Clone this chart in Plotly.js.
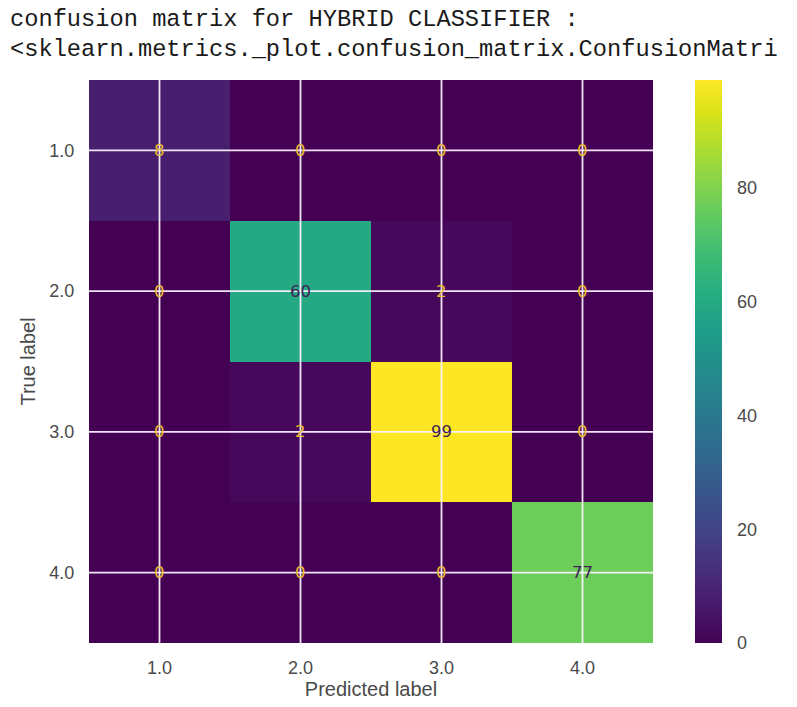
<!DOCTYPE html>
<html>
<head>
<meta charset="utf-8">
<script src="https://cdn.plot.ly/plotly-3.0.1.min.js"></script>
<style>html,body{margin:0;padding:0;background:#fff;}#chart{width:797px;height:707px;}</style>
</head>
<body>
<div id="chart"></div>
<script>
// ---- data ----
const classValues = [1, 2, 3, 4];
const tickLabels = ['1.0', '2.0', '3.0', '4.0'];
const row1 = [8, 0, 0, 0];
const row2 = [0, 60, 2, 0];
const row3 = [0, 2, 99, 0];
const row4 = [0, 0, 0, 77];
const colorbarTicks = [0, 20, 40, 60, 80];
const titleLine1 = 'confusion matrix for HYBRID CLASSIFIER :';
const titleLine2 = '&lt;sklearn.metrics._plot.confusion_matrix.ConfusionMatri';

const z = [row1, row2, row3, row4];
let zmin = Infinity, zmax = -Infinity;
z.forEach(r => r.forEach(v => { zmin = Math.min(zmin, v); zmax = Math.max(zmax, v); }));
const thresh = (zmin + zmax) / 2;

const annotations = [];
z.forEach((r, i) => r.forEach((v, j) => {
  annotations.push({
    x: classValues[j], y: classValues[i], xref: 'x', yref: 'y',
    text: String(v), showarrow: false,
    font: {family: 'DejaVu Sans', size: 16.5, color: v < thresh ? '#ecbd2c' : '#3d2257'}
  });
}));

const lo = classValues[0] - 0.5, hi = classValues[classValues.length - 1] + 0.5;
const shapes = [];
classValues.forEach(v => {
  shapes.push({type: 'line', xref: 'x', yref: 'y', x0: v, x1: v, y0: lo, y1: hi, layer: 'above', line: {color: 'rgba(250,240,255,0.95)', width: 1.8}});
  shapes.push({type: 'line', xref: 'x', yref: 'y', x0: lo, x1: hi, y0: v, y1: v, layer: 'above', line: {color: 'rgba(250,240,255,0.95)', width: 1.8}});
});

// title lines
annotations.push({xref: 'paper', yref: 'paper', x: -0.1436, y: 1.1066, xanchor: 'left', yanchor: 'middle', showarrow: false,
  text: titleLine1, font: {family: 'Liberation Mono', size: 23.7, color: '#1a1a1a'}});
annotations.push({xref: 'paper', yref: 'paper', x: -0.1436, y: 1.0533, xanchor: 'left', yanchor: 'middle', showarrow: false,
  text: titleLine2, font: {family: 'Liberation Mono', size: 23.7, color: '#1a1a1a'}});

const tickFont = {family: 'Liberation Sans', size: 18, color: '#4a4a4a'};
const axisTitleFont = {family: 'Liberation Sans', size: 20, color: '#4a4a4a'};

const trace = {
  type: 'heatmap', x: classValues, y: classValues, z: z,
  colorscale: 'Viridis', zmin: 0, zmax: zmax, showscale: true, hoverinfo: 'skip',
  colorbar: {
    x: 1.0745, xanchor: 'left', xref: 'paper', xpad: 0, ypad: 0,
    y: 0.5, yanchor: 'middle', len: 1, lenmode: 'fraction',
    thickness: 27, thicknessmode: 'pixels', outlinewidth: 0,
    tickvals: colorbarTicks, ticks: 'outside', ticklen: 12, tickcolor: 'rgba(0,0,0,0)',
    tickfont: tickFont
  }
};

const layout = {
  width: 797, height: 707,
  margin: {l: 89, r: 144, t: 80, b: 64},
  paper_bgcolor: '#fff', plot_bgcolor: '#fff',
  showlegend: false,
  xaxis: {
    range: [lo, hi], tickvals: classValues, ticktext: tickLabels, showgrid: false, zeroline: false,
    ticks: 'outside', ticklen: 8, tickcolor: 'rgba(0,0,0,0)',
    tickfont: tickFont,
    title: {text: 'Predicted label', font: axisTitleFont, standoff: 2}
  },
  yaxis: {
    range: [hi, lo], tickvals: classValues, ticktext: tickLabels, showgrid: false, zeroline: false,
    ticks: 'outside', ticklen: 10, tickcolor: 'rgba(0,0,0,0)',
    tickfont: tickFont,
    title: {text: 'True label', font: axisTitleFont, standoff: 8}
  },
  shapes: shapes,
  annotations: annotations
};

Plotly.newPlot('chart', [trace], layout, {displayModeBar: false, staticPlot: true});
</script>
</body>
</html>
